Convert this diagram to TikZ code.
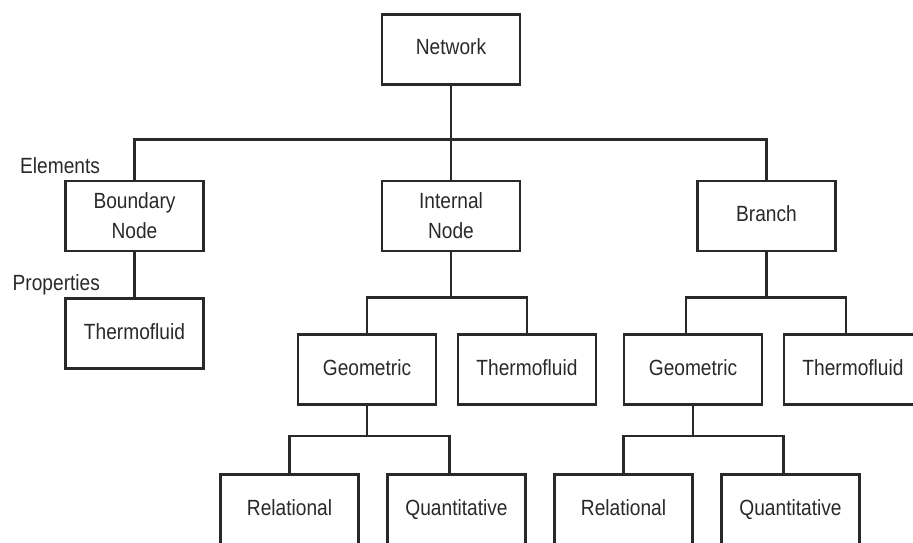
\documentclass[tikz,border=0pt]{standalone}
\usepackage{fontspec}
\setmainfont{Liberation Sans}[FakeStretch=0.87]
\usetikzlibrary{calc}
\definecolor{ink}{gray}{0.16}
\tikzset{
  elembox/.style={draw=ink, line width=2.7pt, minimum width=138pt, minimum height=70pt,
    inner sep=0pt, align=center, text=ink, font=\fontsize{22}{30}\selectfont},
  word/.style={elembox, text height=16pt, text depth=5pt},
  tag/.style={text=ink, inner sep=0pt, anchor=base east, font=\fontsize{22}{30}\selectfont},
  link/.style={draw=ink, line width=2.7pt}
}

\begin{document}
\begin{tikzpicture}[x=1pt, y=-1pt]

\clip (0,0) rectangle (913,543);
% network
\node[word] (net) at (451,49.5) {Network};
% elements
\node[elembox] (bnd) at (134.5,216) {Boundary\\Node};
\node[elembox] (inn) at (451,216) {Internal\\Node};
\node[word] (brn) at (766.5,216) {Branch};
% properties
\node[word] (bth) at (134.5,333.5) {Thermofluid};
\node[word] (igeo) at (367,369.5) {Geometric};
\node[word] (ith) at (527,369.5) {Thermofluid};
\node[word] (bgeo) at (693,369.5) {Geometric};
\node[word] (bth2) at (853,369.5) {Thermofluid};
% geometric kinds
\node[word] (irel) at (289.5,509.5) {Relational};
\node[word] (iqua) at (456.5,509.5) {Quantitative};
\node[word] (brel) at (623.5,509.5) {Relational};
\node[word] (bqua) at (790.5,509.5) {Quantitative};
% level labels
\node[tag] (elem) at ($(bnd.north west)+(36,-6)$) {Elements};
\node[tag] (prop) at ($(bth.north west)+(36,-7)$) {Properties};

% junctions
\coordinate (ijn) at ([yshift=-45pt]inn.south);
\coordinate (bjn) at ([yshift=-45pt]brn.south);
\coordinate (igj) at ([yshift=-30pt]igeo.south);
\coordinate (bgj) at ([yshift=-30pt]bgeo.south);

% tree lines
\draw[link] (net.south) -- (inn.north);
\draw[link] (bnd.north) -- ++(0,-40) -| (brn.north);
\draw[link] (bnd.south) -- (bth.north);
\draw[link] (inn.south) -- (ijn);
\draw[link] (igeo.north) |- (ijn) -| (ith.north);
\draw[link] (brn.south) -- (bjn);
\draw[link] ([xshift=-7pt]bgeo.north) |- (bjn) -| ([xshift=-7pt]bth2.north);
\draw[link] (igeo.south) -- (igj);
\draw[link] (irel.north) |- (igj) -| ([xshift=-7pt]iqua.north);
\draw[link] (bgeo.south) -- (bgj);
\draw[link] (brel.north) |- (bgj) -| ([xshift=-7pt]bqua.north);
\end{tikzpicture}
\end{document}
